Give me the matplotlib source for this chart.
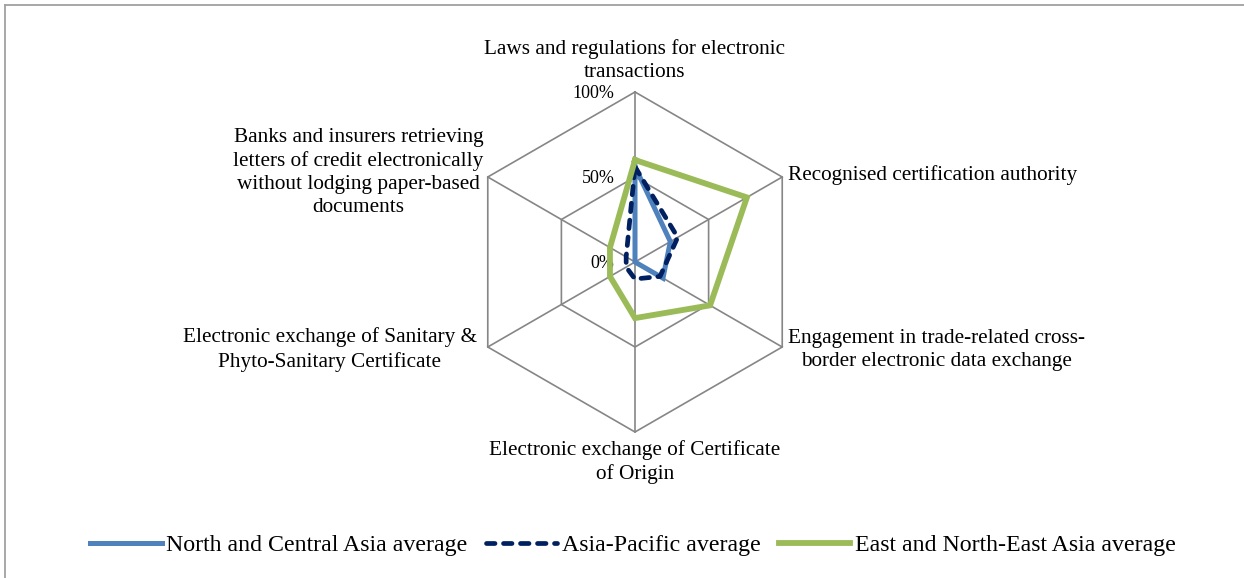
import numpy as np
import matplotlib
matplotlib.use("Agg")
import matplotlib.pyplot as plt
from matplotlib.lines import Line2D

categories = [
    "Laws and regulations for electronic\ntransactions",
    "Recognised certification authority",
    "Engagement in trade-related cross-\nborder electronic data exchange",
    "Electronic exchange of Certificate\nof Origin",
    "Electronic exchange of Sanitary &\nPhyto-Sanitary Certificate",
    "Banks and insurers retrieving\nletters of credit electronically\nwithout lodging paper-based\ndocuments",
]
series_names = ["North and Central Asia average", "Asia-Pacific average",
                "East and North-East Asia average"]
north_central = [0.56, 0.24, 0.19, 0.0, 0.0, 0.0]
asia_pacific = [0.56, 0.29, 0.17, 0.10, 0.06, 0.06]
east_ne = [0.60, 0.76, 0.51, 0.33, 0.17, 0.17]
tick_values = [0.0, 0.5, 1.0]
tick_labels = ["0%", "50%", "100%"]

plt.rcParams['font.family'] = ['Liberation Serif', 'DejaVu Serif']

W, H = 1244, 578
fig = plt.figure(figsize=(W / 100, H / 100), dpi=100)
fig.patch.set_facecolor("white")

# border (top and left only visible)
fig.add_artist(Line2D([5 / W, 5 / W], [0, 1 - 5 / H], transform=fig.transFigure,
                      color="#a0a0a0", lw=1.3))
fig.add_artist(Line2D([5 / W, 1], [1 - 5 / H, 1 - 5 / H], transform=fig.transFigure,
                      color="#a0a0a0", lw=1.3))

cx, cy, R = 635, 262, 170
ax = fig.add_axes([(cx - R) / W, (H - cy - R) / H, 2 * R / W, 2 * R / H])
ax.set_xlim(-1, 1)
ax.set_ylim(-1, 1)
ax.axis("off")

n = len(categories)
ang = np.pi / 2 - np.arange(n) * 2 * np.pi / n
cosA, sinA = np.cos(ang), np.sin(ang)

grid_c = "#868686"
for t in tick_values[1:]:
    xs = np.append(t * cosA, t * cosA[0])
    ys = np.append(t * sinA, t * sinA[0])
    ax.plot(xs, ys, color=grid_c, lw=1.2, zorder=1, clip_on=False)
for i in range(n):
    ax.plot([0, cosA[i]], [0, sinA[i]], color=grid_c, lw=1.2, zorder=1, clip_on=False)

for t, lab in zip(tick_values, tick_labels):
    ax.text(-0.12, t - 0.01, lab, ha="right", va="center", fontsize=13, color="black")

styles = [
    dict(color="#4F81BD", lw=3.6, ls="-"),
    dict(color="#002060", lw=3.4, ls=(0, (1.8, 1.8))),
    dict(color="#9BBB59", lw=4.2, ls="-"),
]
handles = []
for vals, st, name in zip([north_central, asia_pacific, east_ne], styles, series_names):
    v = np.array(vals)
    xs = np.append(v * cosA, v[0] * cosA[0])
    ys = np.append(v * sinA, v[0] * sinA[0])
    ln, = ax.plot(xs, ys, color=st["color"], lw=st["lw"], ls=st["ls"], zorder=3,
                  clip_on=False, solid_joinstyle="miter", dash_capstyle="round",
                  label=name)
    handles.append(ln)

# category labels
lab_fs = 15.3
ls = 1.28
ax.text(0, 1 + 0.06, categories[0], ha="center", va="bottom", fontsize=lab_fs,
        multialignment="center", linespacing=ls)
ax.text(cosA[1] + 0.035, sinA[1] + 0.01, categories[1], ha="left", va="center", fontsize=lab_fs,
        multialignment="center", linespacing=ls)
ax.text(cosA[2] + 0.035, sinA[2] - 0.02, categories[2], ha="left", va="center", fontsize=lab_fs,
        multialignment="center", linespacing=ls)
ax.text(0, -1 - 0.045, categories[3], ha="center", va="top", fontsize=lab_fs,
        multialignment="center", linespacing=ls)
ax.text(cosA[4] - 0.065, sinA[4] - 0.015, categories[4], ha="right", va="center", fontsize=lab_fs,
        multialignment="center", linespacing=ls)
ax.text(cosA[5] - 0.025, sinA[5] + 0.025, categories[5], ha="right", va="center", fontsize=lab_fs,
        multialignment="center", linespacing=ls)

fig.legend(handles=handles, loc="center", bbox_to_anchor=(633 / W, 1 - 545 / H),
           ncol=3, frameon=False, fontsize=17.2, handlelength=3.0, handletextpad=0.2,
           columnspacing=0.75)

fig.savefig("out.png", dpi=100, facecolor="white")
